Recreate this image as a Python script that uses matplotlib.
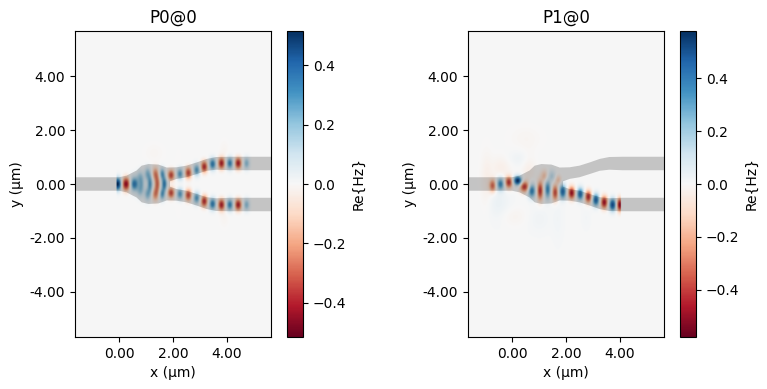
import numpy as np
import matplotlib
matplotlib.use("Agg")
import matplotlib.pyplot as plt

W, H = 767, 389
x_limits = (-1.63, 5.63)
y_limits = (-5.67, 5.67)
titles = ["P0@0", "P1@0"]
color_limits = [0.515, 0.58]
ticks_xy_x = [0, 2, 4]
ticks_xy_y = [-4, -2, 0, 2, 4]
ticks_cbar = [-0.4, -0.2, 0.0, 0.2, 0.4]
field_x_range = [(-0.10, 5.63), (-1.63, 4.03)]

# Waveguide outline (upper half, mirrored for the lower half), in µm
wg_x = [-1.63, 0.00, 0.28, 0.65, 0.84, 1.09, 1.46, 1.77, 2.14, 2.50, 2.88, 3.25, 3.60, 4.10, 5.63,
        5.63, 4.10, 3.60, 3.25, 2.88, 2.50, 2.14, 1.89, 1.89, -1.63]
wg_y = [0.25, 0.25, 0.31, 0.50, 0.68, 0.74, 0.72, 0.61, 0.62, 0.68, 0.80, 0.93, 1.00, 1.01, 1.01,
        0.51, 0.51, 0.53, 0.49, 0.37, 0.25, 0.19, 0.10, 0.00, 0.00]

# Field lobes: x, y, amplitude, x width, y width
p0_x = [-0.05, 0.26, 0.56, 0.84, 0.76, 0.76, 1.15, 1.05, 1.05, 1.42, 1.34, 1.34, 1.68, 1.60, 1.60,
        1.93, 2.26, 2.57, 2.88, 3.16, 3.47, 3.80, 4.11, 4.42, 4.73,
        1.93, 2.26, 2.57, 2.88, 3.16, 3.47, 3.80, 4.11, 4.42, 4.73,
        1.30, 2.20, 3.90, 3.90]
p0_y = [0.00, 0.00, 0.00, 0.00, 0.27, -0.27, 0.00, 0.38, -0.38, 0.00, 0.38, -0.38, 0.00, 0.38, -0.38,
        0.33, 0.37, 0.41, 0.52, 0.64, 0.74, 0.77, 0.77, 0.77, 0.77,
        -0.33, -0.37, -0.41, -0.52, -0.64, -0.74, -0.77, -0.77, -0.77, -0.77,
        1.15, 0.0, 1.25, -1.25]
p0_a = [0.52, -0.45, 0.36, 0.17, 0.12, 0.12, 0.27, 0.19, 0.19, -0.27, -0.22, -0.22, 0.33, 0.26, 0.26,
        -0.34, 0.28, -0.34, 0.28, -0.38, 0.34, -0.40, 0.32, -0.40, 0.20,
        -0.34, 0.28, -0.34, 0.28, -0.38, 0.34, -0.40, 0.32, -0.40, 0.20,
        -0.012, -0.012, -0.015, -0.015]
p0_sx = [0.10, 0.11, 0.11, 0.07, 0.08, 0.08, 0.07, 0.08, 0.08, 0.07, 0.08, 0.08, 0.07, 0.07, 0.07,
         0.09, 0.09, 0.09, 0.09, 0.09, 0.09, 0.09, 0.09, 0.09, 0.08,
         0.09, 0.09, 0.09, 0.09, 0.09, 0.09, 0.09, 0.09, 0.09, 0.08,
         0.25, 0.10, 0.12, 0.12]
p0_sy = [0.16, 0.17, 0.18, 0.24, 0.16, 0.16, 0.24, 0.17, 0.17, 0.24, 0.17, 0.17, 0.19, 0.15, 0.15,
         0.14, 0.15, 0.15, 0.15, 0.15, 0.15, 0.15, 0.15, 0.15, 0.15,
         0.14, 0.15, 0.15, 0.15, 0.15, 0.15, 0.15, 0.15, 0.15, 0.15,
         0.25, 0.70, 0.25, 0.25]

p1_x = [-0.72, -0.43, -0.12, 0.21, 0.46, 0.73, 1.04, 1.20, 1.32, 1.48, 1.60, 1.72, 1.88,
        2.21, 2.53, 2.83, 3.11, 3.42, 3.73, 4.00,
        -0.40, -0.50, 0.25, 0.62, 0.00, 1.00, 1.70, 0.50, -0.95, 2.75]
p1_y = [-0.06, 0.00, 0.06, 0.12, -0.10, -0.25, -0.25, 0.30, -0.20, 0.30, -0.32, 0.15, -0.28,
        -0.33, -0.37, -0.47, -0.59, -0.68, -0.77, -0.77,
        0.60, -0.75, 0.95, 0.50, -1.20, -1.30, -1.30, 1.70, 0.10, -1.25]
p1_a = [-0.33, 0.36, -0.42, 0.58, -0.42, 0.40, -0.42, -0.16, 0.36, 0.14, -0.38, -0.14, 0.44,
        -0.48, 0.44, -0.44, 0.46, -0.48, 0.50, -0.52,
        -0.035, 0.035, 0.025, -0.035, -0.020, 0.020, 0.015, -0.015, -0.035, 0.012]
p1_sx = [0.09, 0.10, 0.10, 0.11, 0.12, 0.10, 0.08, 0.09, 0.08, 0.09, 0.08, 0.08, 0.09,
         0.09, 0.09, 0.09, 0.09, 0.09, 0.09, 0.08,
         0.25, 0.30, 0.30, 0.18, 0.40, 0.30, 0.15, 0.40, 0.15, 0.12]
p1_sy = [0.16, 0.16, 0.15, 0.12, 0.14, 0.18, 0.24, 0.15, 0.24, 0.15, 0.20, 0.12, 0.18,
         0.16, 0.16, 0.16, 0.16, 0.16, 0.16, 0.17,
         0.30, 0.45, 0.20, 0.45, 0.25, 0.35, 0.60, 0.30, 0.70, 0.30]

lobes = [(p0_x, p0_y, p0_a, p0_sx, p0_sy), (p1_x, p1_y, p1_a, p1_sx, p1_sy)]

axes_px = [(75, 271), (468, 664)]
cbar_px = [(287, 303), (680, 696)]
top_px, bottom_px = 31, 337

plt.rcParams["font.size"] = 10
fig = plt.figure(figsize=(W / 100, H / 100), dpi=100)


def rect(left, right):
    return [left / W, 1 - bottom_px / H, (right - left) / W, (bottom_px - top_px) / H]


gx = np.linspace(x_limits[0], x_limits[1], 500)
gy = np.linspace(y_limits[0], y_limits[1], 700)
X, Y = np.meshgrid(gx, gy)

for i in range(2):
    ax = fig.add_axes(rect(*axes_px[i]))
    cax = fig.add_axes(rect(*cbar_px[i]))
    Z = np.zeros_like(X)
    for x0, y0, a, sx, sy in zip(*lobes[i]):
        Z += a * np.exp(-((X - x0) / sx) ** 2 / 2 - ((Y - y0) / sy) ** 2 / 2)
    Z[(X < field_x_range[i][0]) | (X > field_x_range[i][1])] = 0
    vm = color_limits[i]
    im = ax.imshow(Z + 0.002, origin="lower", extent=[*x_limits, *y_limits], cmap="RdBu",
                   vmin=-vm, vmax=vm, aspect="auto", interpolation="bilinear")
    ax.fill(wg_x, wg_y, color="k", alpha=0.2, lw=0)
    ax.fill(wg_x, -np.array(wg_y), color="k", alpha=0.2, lw=0)
    ax.set_xlim(*x_limits)
    ax.set_ylim(*y_limits)
    ax.set_xticks(ticks_xy_x, [f"{t:.2f}" for t in ticks_xy_x])
    ax.set_yticks(ticks_xy_y, [f"{t:.2f}" for t in ticks_xy_y])
    ax.set_xlabel("x (µm)")
    ax.set_ylabel("y (µm)")
    ax.set_title(titles[i])
    cb = fig.colorbar(im, cax=cax)
    cb.set_ticks(ticks_cbar)
    cb.set_label("Re{Hz}")

fig.savefig("out.png", dpi=100)
